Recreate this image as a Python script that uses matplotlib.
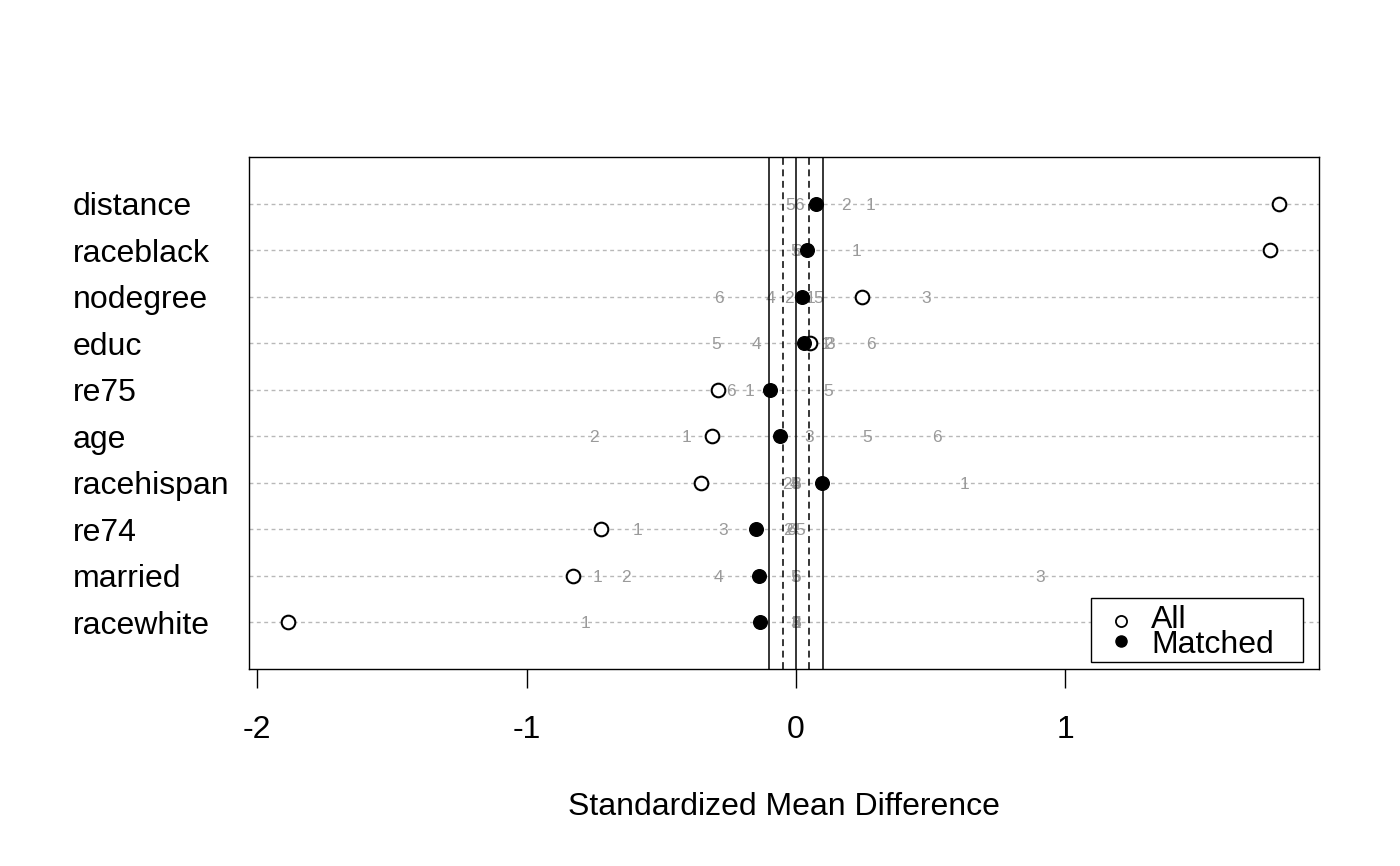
import matplotlib
matplotlib.use("Agg")
import matplotlib.pyplot as plt
from matplotlib.patches import Rectangle

plt.rcParams['font.family'] = ['Liberation Sans', 'DejaVu Sans']

# covariates, top to bottom
variables = ['distance', 'raceblack', 'nodegree', 'educ', 're75',
             'age', 'racehispan', 're74', 'married', 'racewhite']

# standardized mean differences
all_smd = [1.792, 1.759, 0.245, 0.052, -0.289, -0.312, -0.352, -0.724, -0.827, -1.885]
matched_smd = [0.074, 0.041, 0.022, 0.030, -0.096, -0.059, 0.097, -0.148, -0.137, -0.134]

# per-subclass differences (subclasses 1..6)
sub1 = [0.278, 0.226, 0.055, 0.110, -0.174, -0.405, 0.627, -0.587, -0.735, -0.783]
sub2 = [0.186, 0.035, -0.026, 0.120, -0.100, -0.750, -0.034, -0.030, -0.631, 0.000]
sub3 = [0.070, 0.040, 0.482, 0.126, -0.090, 0.048, 0.000, -0.271, 0.905, -0.003]
sub4 = [0.080, 0.047, -0.093, -0.145, -0.108, -0.060, -0.004, -0.011, -0.286, 0.002]
sub5 = [-0.022, -0.003, 0.082, -0.297, 0.119, 0.263, -0.004, 0.015, -0.004, 0.001]
sub6 = [0.011, 0.003, -0.286, 0.278, -0.241, 0.523, 0.000, -0.020, 0.000, -0.001]
subclasses = [sub1, sub2, sub3, sub4, sub5, sub6]

ypos = [len(variables) - i for i in range(len(variables))]

fig = plt.figure(figsize=(14, 8.66), dpi=100)
ax = fig.add_axes([249/1400, 197/866, 1070/1400, 512/866])

# dotted guide lines
for y in ypos:
    ax.axhline(y, color='#B8B8B8', lw=1.0, dashes=(2.8, 2.5), zorder=1)

# subclass numbers
for k, vals in enumerate(subclasses):
    for x, y in zip(vals, ypos):
        ax.text(x, y, str(k + 1), color='#9A9A9A', fontsize=12.5,
                ha='center', va='center_baseline', zorder=2)

ax.plot(all_smd, ypos, 'o', mfc='white', mec='black', ms=9.8, mew=1.5,
        ls='none', zorder=3)
ax.plot(matched_smd, ypos, 'o', mfc='black', mec='black', ms=9.8, mew=1.0,
        ls='none', zorder=3)

# threshold lines
for v in [-0.1, 0, 0.1]:
    ax.axvline(v, color='black', lw=1.1, zorder=4)
for v in [-0.05, 0.05]:
    ax.axvline(v, color='black', lw=1.1, dashes=(4.5, 3.0), zorder=4)

ax.set_xlim(-2.030, 1.941)
ax.set_ylim(0, 11)

ax.set_xticks([-2, -1, 0, 1])
ax.set_xticklabels(['-2', '-1', '0', '1'])
ax.tick_params(axis='x', length=13.7, width=1.0, pad=19.5, labelsize=23)
ax.set_yticks(ypos)
ax.set_yticklabels(variables, ha='left', va='center_baseline')
ax.tick_params(axis='y', length=0, pad=126.7, labelsize=23)
ax.set_xlabel('Standardized Mean Difference', fontsize=23, labelpad=34)

for s in ax.spines.values():
    s.set_linewidth(1.0)

# legend box
ax.add_patch(Rectangle((0.7869, 0.0137), 0.1981, 0.125, transform=ax.transAxes,
                       fill=True, facecolor='white', edgecolor='black', lw=1.0,
                       zorder=5))
ax.plot([0.8150], [0.0938], 'o', mfc='white', mec='black', ms=8, mew=1.3,
        transform=ax.transAxes, zorder=6)
ax.plot([0.8150], [0.0547], 'o', mfc='black', mec='black', ms=8, mew=1.0,
        transform=ax.transAxes, zorder=6)
ax.text(0.843, 0.0801, 'All', fontsize=23, va='baseline', ha='left',
        transform=ax.transAxes, zorder=6)
ax.text(0.843, 0.0313, 'Matched', fontsize=23, va='baseline', ha='left',
        transform=ax.transAxes, zorder=6)

fig.savefig('out.png', dpi=100)
